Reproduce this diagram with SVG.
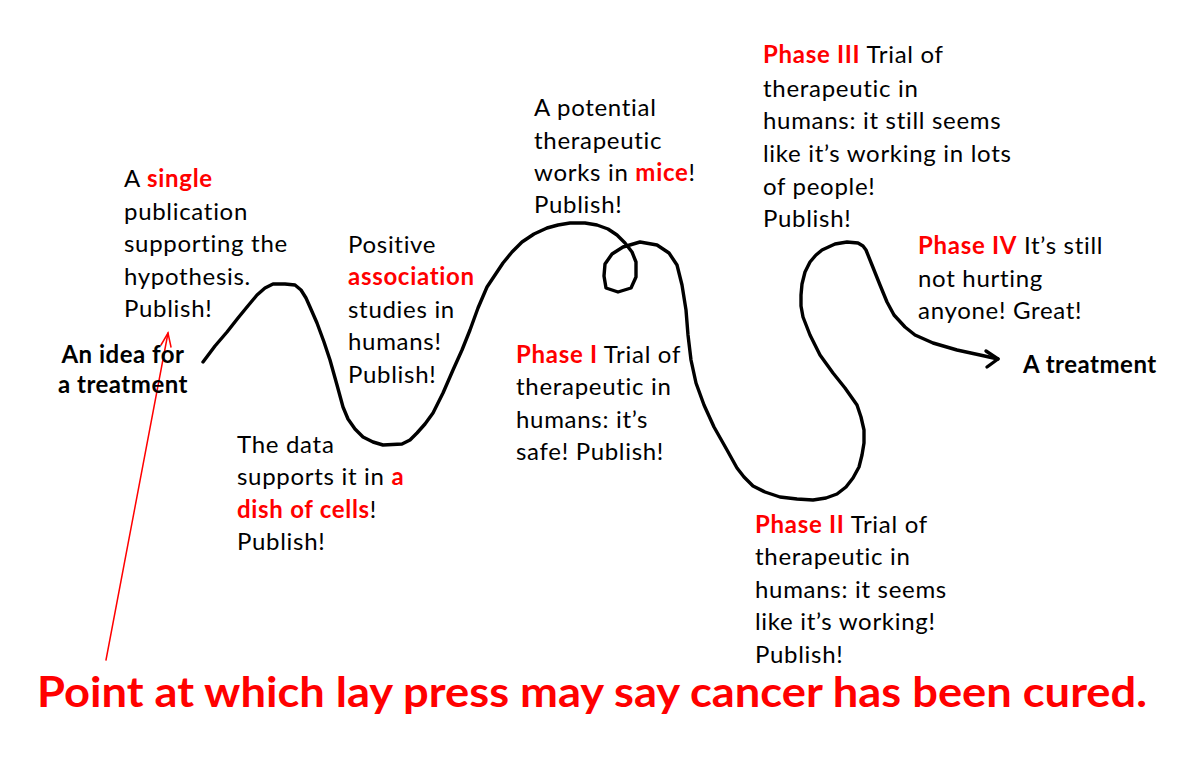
<svg xmlns="http://www.w3.org/2000/svg" width="1200" height="761" viewBox="0 0 1200 761">
<style>
text{font-family:Lato,"Liberation Sans",sans-serif;font-size:24px;letter-spacing:0.7px;fill:#000}
.r{fill:#ff0000;font-weight:bold}
.b{font-weight:bold;letter-spacing:0.5px}
.curve{fill:none;stroke:#000;stroke-width:3.4;stroke-linejoin:round;stroke-linecap:round}
.red{fill:none;stroke:#ff0000;stroke-width:1.5;stroke-linecap:round}
</style>
<rect width="1200" height="761" fill="#fff"/>
<g id="connectors">
<path class="curve" d="M203,362 L215,346 L227,332 L238,318 L247,307 L257,295 L265,288 L273,284 L285,284 L295,285 L301,290 L306,298 L310,307 L317,323 L324,342 L330,360 L337,385 L343,407 L348,419 L355,429 L363,437 L373,442 L383,445 L402,444 L410,440 L417,433 L425,424 L433,413 L443,393 L453,370 L462,350 L470,330 L478,308 L487,287 L495,275 L503,263 L512,252 L522,242 L534,234 L547,228 L558,225 L570,223 L585,223 L597,225 L608,229 L617,235 L625,243 L632,252 L636,262 L636,277 L631,288 L618,292 L606,288 L604,276 L605,264 L612,254 L623,247 L640,242 L657,245 L669,253 L677,265 L682,285 L686,310 L688,335 L691,360 L696,383 L704,405 L714,427 L727,450 L737,468 L744,477 L753,486 L765,492 L780,497 L797,499 L813,500 L826,498 L837,494 L846,487 L853,478 L859,467 L862,455 L864,443 L864,430 L861,417 L857,405 L845,388 L833,373 L820,355 L810,335 L803,317 L801,306 L801,295 L802,284 L805,272 L810,262 L816,255 L822,250 L835,244 L847,242 L858,243 L863,246 L866,250 L872,265 L880,285 L887,302 L894,315 L905,327 L915,335 L933,343 L957,350 L980,355 L998,359"/>
<path class="curve" d="M986,351 L998,359 L987,367"/>
<path class="red" d="M106,660 L168,333"/>
<path class="red" d="M161,345 L168,333 L171,347"/>
</g>
<g id="idea"><text class="b" x="123" y="363" text-anchor="middle">An idea for</text><text class="b" x="123" y="393" text-anchor="middle">a treatment</text></g>
<g id="single">
<text x="124" y="187">A <tspan class="r">single</tspan></text>
<text x="124" y="220">publication</text>
<text x="124" y="252">supporting the</text>
<text x="124" y="285">hypothesis.</text>
<text x="124" y="317">Publish!</text>
</g>
<g id="cells">
<text x="237" y="453">The data</text>
<text x="237" y="485">supports it in <tspan class="r">a</tspan></text>
<text x="237" y="518"><tspan class="r">dish of cells</tspan>!</text>
<text x="237" y="550">Publish!</text>
</g>
<g id="association">
<text x="348" y="253">Positive</text>
<text x="348" y="285" class="r">association</text>
<text x="348" y="318">studies in</text>
<text x="348" y="350">humans!</text>
<text x="348" y="383">Publish!</text>
</g>
<g id="mice">
<text x="534" y="116">A potential</text>
<text x="534" y="149">therapeutic</text>
<text x="534" y="181">works in <tspan class="r">mice</tspan>!</text>
<text x="534" y="213">Publish!</text>
</g>
<g id="phase1">
<text x="516" y="363"><tspan class="r">Phase I</tspan> Trial of</text>
<text x="516" y="395">therapeutic in</text>
<text x="516" y="428">humans: it’s</text>
<text x="516" y="460">safe! Publish!</text>
</g>
<g id="phase2">
<text x="755" y="533"><tspan class="r">Phase II</tspan> Trial of</text>
<text x="755" y="565">therapeutic in</text>
<text x="755" y="598">humans: it seems</text>
<text x="755" y="630">like it’s working!</text>
<text x="755" y="663">Publish!</text>
</g>
<g id="phase3">
<text x="763" y="63"><tspan class="r">Phase III</tspan> Trial of</text>
<text x="763" y="97">therapeutic in</text>
<text x="763" y="129">humans: it still seems</text>
<text x="763" y="162">like it’s working in lots</text>
<text x="763" y="195">of people!</text>
<text x="763" y="227">Publish!</text>
</g>
<g id="phase4">
<text x="918" y="254"><tspan class="r">Phase IV</tspan> It’s still</text>
<text x="918" y="287">not hurting</text>
<text x="918" y="319">anyone! Great!</text>
</g>
<g id="treatment"><text class="b" x="1023" y="373">A treatment</text></g>
<g id="press"><text x="37" y="707" style="font-size:42px;font-weight:bold;fill:#ff0000;letter-spacing:0" textLength="1110" lengthAdjust="spacingAndGlyphs">Point at which lay press may say cancer has been cured.</text></g>
</svg>
